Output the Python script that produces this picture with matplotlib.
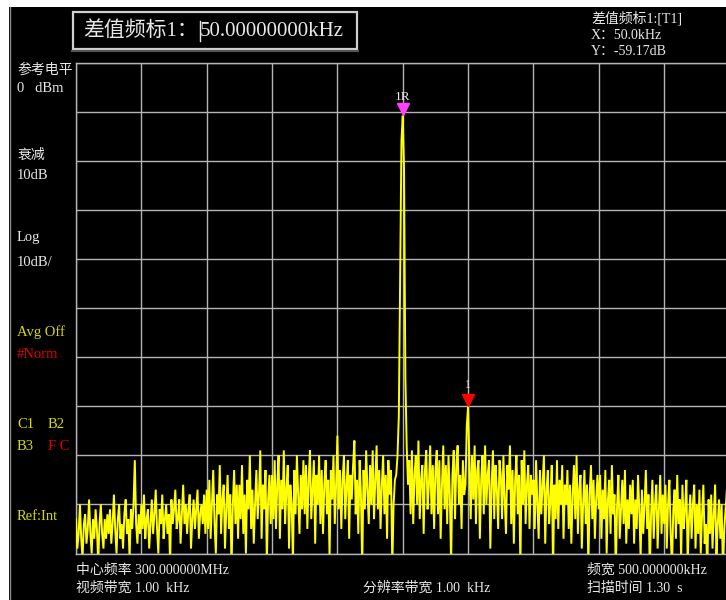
"""Spectrum analyzer screen: delta marker on a 300 MHz carrier."""
import numpy as np
import matplotlib
matplotlib.use("Agg")
import matplotlib.pyplot as plt
from matplotlib.patches import Rectangle
from matplotlib.lines import Line2D
from matplotlib.transforms import offset_copy

plt.rcParams['font.family'] = ['Liberation Serif', 'Noto Sans CJK SC']

# sweep settings
CENTER_MHZ = 300.0
SPAN_KHZ = 500.0
REF_DBM = 0.0
DB_PER_DIV = 10.0

# measured trace, dBm, one point per kHz from 299.75 to 300.25 MHz
trace_dbm = [
    -93, -99, -96, -90, -97, -101, -94, -92, -98, -95, -89, -96, -100, -93, -97, -91, -95, -102, -94, -90, -96, -99, -93, -97, -92,
    -96, -91, -98, -94, -88, -95, -100, -93, -90, -97, -94, -99, -92, -89, -96, -93, -101, -91, -95, -90, -81, -94, -98, -92, -96,
    -90, -95, -88, -97, -93, -91, -99, -94, -89, -96, -92, -87, -95, -100, -91, -94, -88, -97, -93, -90, -96, -92, -102, -89, -94,
    -91, -87, -95, -93, -89, -98, -92, -86, -94, -90, -96, -91, -88, -99, -93, -89, -95, -91, -87, -97, -92, -90, -94, -88, -96,
    -87, -95, -85, -97, -90, -83, -94, -100, -88, -92, -82, -96, -89, -86, -99, -91, -84, -95, -88, -103, -90, -83, -94, -86, -97,
    -86, -93, -82, -96, -88, -100, -85, -91, -80, -95, -87, -98, -90, -83, -93, -88, -79, -97, -86, -91, -83, -102, -89, -84, -94,
    -84, -93, -81, -95, -86, -80, -97, -85, -91, -79, -94, -87, -82, -99, -86, -90, -102, -83, -92, -80, -88, -96, -84, -91, -81,
    -92, -82, -95, -85, -79, -93, -87, -81, -98, -84, -90, -80, -94, -83, -96, -86, -81, -92, -85, -101, -83, -89, -80, -94, -86,
    -76, -91, -83, -95, -85, -80, -93, -86, -81, -97, -84, -89, -82, -77, -92, -85, -96, -81, -88, -103, -83, -91, -79, -87, -94,
    -82, -90, -79, -93, -85, -78, -91, -83, -95, -86, -80, -92, -84, -97, -81, -88, -83, -103, -90, -85, -84, -80, -72, -45, -16,
    -10.83, -22, -64, -78, -86, -81, -92, -79, -94, -84, -80, -90, -77, -93, -85, -82, -96, -83, -79, -91, -86, -78, -92, -82, -95,
    -83, -79, -92, -81, -97, -86, -78, -91, -82, -94, -80, -88, -102, -84, -79, -93, -82, -78, -90, -84, -95, -81, -88, -86, -74,
    -70.0, -82, -93, -80, -89, -78, -94, -83, -81, -97, -85, -80, -92, -78, -90, -84, -81, -99, -86, -79, -93, -82, -87, -95, -81,
    -84, -93, -80, -89, -96, -82, -87, -78, -94, -83, -98, -85, -80, -92, -84, -103, -81, -90, -79, -94, -86, -82, -95, -84, -88,
    -85, -95, -81, -90, -97, -83, -92, -86, -80, -98, -87, -83, -94, -89, -82, -104, -86, -93, -81, -95, -85, -90, -82, -97, -86,
    -90, -83, -95, -86, -98, -88, -82, -93, -80, -96, -87, -84, -99, -90, -83, -94, -86, -103, -88, -82, -93, -85, -97, -89, -84,
    -91, -84, -97, -87, -93, -83, -100, -89, -85, -96, -82, -92, -88, -104, -90, -84, -97, -91, -85, -94, -83, -98, -89, -95, -86,
    -92, -85, -98, -89, -95, -84, -91, -101, -87, -96, -90, -83, -95, -88, -104, -92, -85, -97, -90, -86, -99, -91, -84, -96, -88,
    -94, -86, -99, -90, -85, -96, -103, -91, -87, -97, -84, -94, -89, -101, -86, -95, -91, -85, -102, -93, -88, -97, -90, -86, -99,
    -90, -96, -87, -100, -92, -86, -98, -94, -104, -89, -96, -88, -99, -92, -86, -101, -94, -89, -97, -90, -104, -95, -91, -87, -98,
    -93,
]

# markers: reference (1R) and marker 1, in MHz
ref_marker_mhz = 300.000
marker1_mhz = 300.050

W, H = 726, 600
YEL = "#d8d800"
RED = "#e00000"
TXT = "#e8e8e8"
GRID = "#b4b4b4"

fig = plt.figure(figsize=(7.26, 6.0), dpi=100, facecolor="white")


def fx(px):
    return px / W


def fy(py):
    return 1 - py / H


def label(s, x, y, color=TXT, size=10.5, **kw):
    fig.text(fx(x), fy(y), s, color=color, fontsize=size, ha="left", va="center", **kw)


# black screen with grey left rule
fig.add_artist(Rectangle((fx(9), 0), 1 - fx(9), fy(7), transform=fig.transFigure,
                         facecolor="black", edgecolor="none", zorder=0))
fig.add_artist(Line2D([fx(9.5), fx(9.5)], [0, fy(7)], transform=fig.transFigure,
                      color="#8a8a8a", lw=1))

# plot area (right edge runs just past the screen)
ax = fig.add_axes([fx(76), fy(553.5), 653.5 / W, 491 / H])
ax.set_facecolor("black")
f0 = CENTER_MHZ - SPAN_KHZ / 2000
f1 = CENTER_MHZ + SPAN_KHZ / 2000
y_bot = REF_DBM - 10 * DB_PER_DIV
ax.set_xlim(f0, f1)
ax.set_ylim(y_bot, REF_DBM)
ax.set_xticks(np.linspace(f0, f1, 11))
ax.set_yticks(np.linspace(y_bot, REF_DBM, 11))
ax.tick_params(length=0, labelbottom=False, labelleft=False)
ax.grid(True, color=GRID, lw=1)
for sp in ax.spines.values():
    sp.set_color(GRID)
    sp.set_linewidth(1)

trace = np.array(trace_dbm, dtype=float)
freq = np.linspace(f0, f1, len(trace))
ax.plot(freq, trace, color="#ffff00", lw=1.4, zorder=3, solid_joinstyle="miter")

# marker triangles sit on the trace
def trace_at(f):
    return trace[int(round((f - f0) * 1000))]

ref_db = trace_at(ref_marker_mhz)
m1_db = trace_at(marker1_mhz)
tri = offset_copy(ax.transData, fig=fig, y=4.5, units="points")
ax.plot([ref_marker_mhz], [ref_db], marker="v", ms=8, color="#ff40ff",
        mec="#ff40ff", transform=tri, zorder=5, clip_on=False)
ax.plot([marker1_mhz], [m1_db], marker="v", ms=8.5, color="#ff0000",
        mec="#ff0000", transform=tri, zorder=5, clip_on=False)
ax.annotate("1R", (ref_marker_mhz, ref_db), xytext=(0, 13.5), textcoords="offset points",
            ha="center", va="center", color=TXT, fontsize=9.5)
ax.annotate("1", (marker1_mhz, m1_db), xytext=(0, 15.5), textcoords="offset points",
            ha="center", va="center", color=TXT, fontsize=8.5)

# delta marker entry box
delta_khz = (marker1_mhz - ref_marker_mhz) * 1000
fig.add_artist(Rectangle((fx(73), fy(49)), fx(357) - fx(73), fy(12) - fy(49),
                         transform=fig.transFigure, facecolor="black",
                         edgecolor="#cfcfcf", lw=1.6))
fig.add_artist(Line2D([fx(72), fx(358)], [fy(51), fy(51)], transform=fig.transFigure,
                      color="#555555", lw=1.5))
label("差值频标1：", 83, 31, size=15)
label(f"{delta_khz:.8f}kHz", 200, 31, size=15)
fig.add_artist(Line2D([fx(200), fx(200)], [fy(21), fy(41)], transform=fig.transFigure,
                      color=TXT, lw=1))

# marker readout
label("差值频标1:[T1]", 591, 18, size=10)
label(f"X：{delta_khz:.1f}kHz", 591, 35, size=10)
label(f"Y：{m1_db - ref_db:.2f}dB", 591, 51, size=10)

# left annotations
label("参考电平", 17, 70, size=10)
label(f"{REF_DBM:.0f}   dBm", 17, 88)
label("衰减", 17, 155, size=10)
label("10dB", 17, 175)
label("Log", 17, 237)
label(f"{DB_PER_DIV:.0f}dB/", 17, 263)
label("Avg Off", 17, 332, color=YEL)
label("#Norm", 17, 354, color=RED)
label("C1", 17, 425, color=YEL)
label("B2", 48, 425, color=YEL)
label("B3", 17, 446, color=YEL)
label("F C", 48, 446, color=RED)
label("Ref:Int", 17, 517, color=YEL)

# bottom settings
label(f"中心频率 {CENTER_MHZ:.6f}MHz", 76, 570, size=10)
label("视频带宽 1.00  kHz", 76, 588, size=10)
label("分辨率带宽 1.00  kHz", 363, 588, size=10)
label(f"频宽 {SPAN_KHZ:.6f}kHz", 587, 570, size=10)
label("扫描时间 1.30  s", 587, 588, size=10)

fig.savefig("out.png", dpi=100, facecolor="white")
